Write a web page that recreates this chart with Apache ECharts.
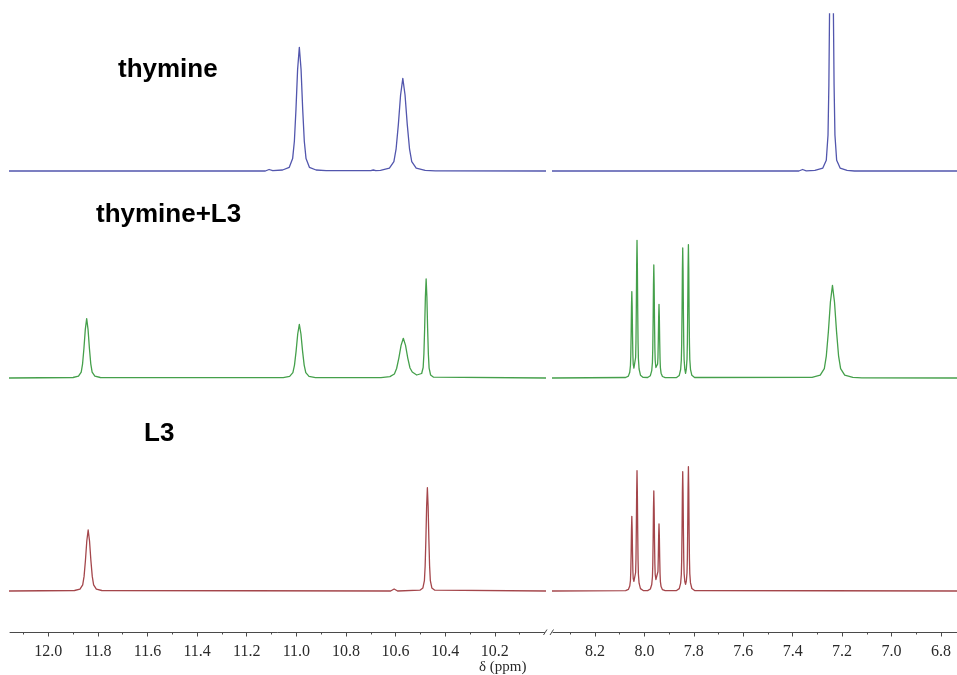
<!DOCTYPE html>
<html><head><meta charset="utf-8">
<script src="https://cdn.jsdelivr.net/npm/echarts/dist/echarts.min.js"></script>
<style>html,body{margin:0;padding:0;background:#fff}#c{width:957px;height:675px}</style>
</head><body><div id="c"></div>
<script>
// ---- data: [chemical shift (ppm), intensity (a.u.)] ----
const traceNames = ['thymine', 'thymine+L3', 'L3'];

const thymine = [
  [12.16,0],[11.125,0],[11.11,1.5],[11.095,0.3],
  [11.0555,1.0],[11.0285,3.7],[11.015,12.4],[11.008,29.7],[11.0015,61.9],[10.995,101.4],[10.988,123.7],[10.981,101.4],[10.9745,61.9],[10.968,29.7],[10.961,12.4],[10.9475,3.7],[10.9205,1.0],[10.88,0.3],
  [10.70,0.3],[10.69,1],[10.68,0.3],
  [10.661,0.7],[10.625,2.8],[10.607,9.3],[10.598,22.2],[10.589,46.4],[10.580,76],[10.571,92.7],[10.562,76],[10.553,46.4],[10.544,22.2],[10.535,9.3],[10.517,2.8],[10.481,0.7],[10.44,0.2],
  [9.98,0],
  [8.38,0],[7.375,0],[7.36,1.5],[7.345,0.2],[7.31,0.6],
  [7.278,2.9],[7.264,10.8],[7.257,36],[7.2535,86.4],[7.250,180],[7.2465,295],[7.243,360],[7.2395,295],[7.236,180],[7.2325,86.4],[7.229,36],[7.222,10.8],[7.208,2.9],[7.18,0.6],[7.15,0],
  [6.73,0]
];

const thymineL3 = [
  [12.16,0],
  [11.900,0.5],[11.878,1.8],[11.867,5.9],[11.8615,14.2],[11.856,29.7],[11.8505,48.6],[11.845,59.3],[11.8395,48.6],[11.834,29.7],[11.8285,14.2],[11.823,5.9],[11.812,1.8],[11.790,0.5],
  [11.053,0.4],[11.027,1.6],[11.014,5.4],[11.0075,12.9],[11.001,26.9],[10.9945,44],[10.988,53.7],[10.9815,44],[10.975,26.9],[10.9685,12.9],[10.962,5.4],[10.949,1.6],[10.923,0.4],
  [10.659,0.4],[10.623,1.4],[10.605,4.0],[10.596,9.5],[10.587,19.9],[10.578,32.6],[10.569,39.7],[10.560,32.6],[10.551,19.9],[10.542,10],[10.533,6],[10.515,3],
  [10.495,4.5],[10.489,10.5],[10.486,24],[10.483,49.5],[10.480,81.2],[10.477,99],[10.474,81.2],[10.471,49.5],[10.468,23.8],[10.465,9.9],[10.459,3],[10.447,0.8],
  [9.98,0],
  [8.38,0],
  [8.076,0.5],[8.065,1.9],[8.0594,5.8],[8.0566,12.5],[8.0552,22.5],[8.0538,43.2],[8.0524,70.8],[8.051,86.4],[8.0496,71.2],[8.0482,44],[8.0468,23.5],[8.0454,14],[8.0426,9.8],[8.0405,9.4],[8.0384,11],[8.0356,20.5],[8.0342,36.5],[8.0328,69.5],[8.0314,113],[8.030,137.7],[8.0286,112.9],[8.0272,68.9],[8.0258,35.8],[8.0244,19.3],[8.0216,9.0],[8.016,2.8],[8.005,0.6],
  [7.987,0.5],[7.976,2.3],[7.9704,7.3],[7.9676,15.8],[7.9662,29.4],[7.9648,56.5],[7.9634,92.7],[7.962,113],[7.9606,92.7],[7.9592,57],[7.9578,30.5],[7.9564,17.5],[7.9536,10.5],[7.9515,10],[7.9494,11],[7.9466,14],[7.9452,21],[7.9438,38],[7.9424,61],[7.941,73.7],[7.9396,60.4],[7.9382,36.9],[7.9368,19.2],[7.9354,10.3],[7.9326,4.8],[7.927,1.5],[7.916,0.3],
  [7.870,0.5],[7.859,2.6],[7.8534,8.5],[7.8506,18.2],[7.8492,33.8],[7.8478,65],[7.8464,106.6],[7.845,130],[7.8436,106.6],[7.8422,65],[7.8408,34],[7.8394,18.5],[7.8366,8.8],[7.8335,4.7],[7.8304,9],[7.8276,19],[7.8262,35],[7.8248,67],[7.8234,109.4],[7.822,133.4],[7.8206,109.4],[7.8192,66.7],[7.8178,34.7],[7.8164,18.7],[7.8136,8.7],[7.808,2.7],[7.797,0.5],
  [7.3215,0.7],[7.2885,2.8],[7.272,9.3],[7.2638,22.2],[7.2555,46.4],[7.2473,76],[7.239,92.7],[7.2308,76],[7.2225,46.4],[7.2143,22.2],[7.206,9.3],[7.1895,2.8],[7.1565,0.7],[7.12,0.2],
  [6.73,0]
];

const L3 = [
  [12.16,0],
  [11.894,0.5],[11.872,1.8],[11.861,6.1],[11.8555,14.6],[11.850,30.5],[11.8445,50],[11.839,61],[11.8335,50],[11.828,30.5],[11.8225,14.6],[11.817,6.1],[11.806,1.8],[11.784,0.5],
  [10.62,0],[10.606,2],[10.592,0],
  [10.502,0.8],[10.490,3.1],[10.484,10.3],[10.481,24.8],[10.478,51.7],[10.475,84.7],[10.472,103.3],[10.469,84.7],[10.466,51.7],[10.463,24.8],[10.460,10.3],[10.454,3.1],[10.442,0.8],
  [9.98,0],
  [8.38,0],
  [8.076,0.4],[8.065,1.6],[8.0594,4.9],[8.0566,10.5],[8.0552,19.4],[8.0538,37.4],[8.0524,61.3],[8.051,74.7],[8.0496,61.5],[8.0482,38],[8.0468,20.5],[8.0454,12.5],[8.0426,9.6],[8.0405,9.3],[8.0384,10.5],[8.0356,18.5],[8.0342,32],[8.0328,61],[8.0314,98.6],[8.030,120.3],[8.0286,98.6],[8.0272,60.2],[8.0258,31.3],[8.0244,16.8],[8.0216,7.8],[8.016,2.4],[8.005,0.5],
  [7.987,0.4],[7.976,2],[7.9704,6.5],[7.9676,14],[7.9662,26],[7.9648,50],[7.9634,82],[7.962,100],[7.9606,82],[7.9592,50.5],[7.9578,27.5],[7.9564,16.5],[7.9536,11.5],[7.9515,11],[7.9494,11.5],[7.9466,13.5],[7.9452,19.5],[7.9438,34.5],[7.9424,55.5],[7.941,67],[7.9396,55],[7.9382,33.5],[7.9368,17.4],[7.9354,9.4],[7.9326,4.4],[7.927,1.3],[7.916,0.3],
  [7.870,0.5],[7.859,2.4],[7.8534,7.8],[7.8506,16.7],[7.8492,31],[7.8478,59.7],[7.8464,97.8],[7.845,119.3],[7.8436,97.8],[7.8422,60],[7.8408,31.5],[7.8394,17.5],[7.8366,9.5],[7.8335,6.7],[7.8304,9.8],[7.8276,18.5],[7.8262,33],[7.8248,62.5],[7.8234,102],[7.822,124.3],[7.8206,102],[7.8192,62.2],[7.8178,32.3],[7.8164,17.4],[7.8136,8.1],[7.808,2.5],[7.797,0.5],
  [6.73,0]
];

const leftMajorTicks  = [12.0, 11.8, 11.6, 11.4, 11.2, 11.0, 10.8, 10.6, 10.4, 10.2];
const leftMinorTicks  = [12.1, 11.9, 11.7, 11.5, 11.3, 11.1, 10.9, 10.7, 10.5, 10.3, 10.1];
const rightMajorTicks = [8.2, 8.0, 7.8, 7.6, 7.4, 7.2, 7.0, 6.8];
const rightMinorTicks = [8.3, 8.1, 7.9, 7.7, 7.5, 7.3, 7.1, 6.9];
const leftRange  = [10.0, 12.154];
const rightRange = [6.735, 8.37];
const axisTitle = 'δ (ppm)';

// ---- layout / style ----
const traces = [thymine, thymineL3, L3];
const colors = ['#5256ad', '#45a04b', '#a4464b'];
const axisColor = '#4a4a4a';
const rowLayout = [
  {top: 14,  height: 164, min: -7,  max: 157},
  {top: 228, height: 157, min: -7,  max: 150},
  {top: 451, height: 181, min: -41, max: 140}
];
const segs = [
  {left: 10,  width: 534.5, range: leftRange,  major: leftMajorTicks,  minor: leftMinorTicks,  keep: p => p[0] >= 9.98},
  {left: 553, width: 404,   range: rightRange, major: rightMajorTicks, minor: rightMinorTicks, keep: p => p[0] <= 8.38}
];
const labelPos = [
  {x: 118, y: 69.5},
  {x: 96,  y: 214.5},
  {x: 144, y: 434}
];

const grid = [], xAxis = [], yAxis = [], series = [];
rowLayout.forEach((row, r) => {
  segs.forEach((s, k) => {
    const gi = grid.length;
    const isBottom = r === rowLayout.length - 1;
    grid.push({left: s.left, width: s.width, top: row.top, height: row.height, containLabel: false});
    xAxis.push({
      type: 'value', gridIndex: gi, position: 'bottom', min: s.range[0], max: s.range[1], inverse: true,
      show: isBottom,
      axisLine: {show: true, onZero: false, lineStyle: {color: axisColor, width: 1}},
      axisTick: {show: false},
      axisLabel: {show: true, customValues: s.major, formatter: v => v.toFixed(1), margin: 12,
                  fontFamily: 'Liberation Serif', fontSize: 16, color: '#2a2a2a'},
      splitLine: {show: false}
    });
    yAxis.push({type: 'value', gridIndex: gi, min: row.min, max: row.max, show: false, splitLine: {show: false}});
    series.push({
      type: 'line', name: traceNames[r], xAxisIndex: gi, yAxisIndex: gi,
      data: traces[r].filter(s.keep), showSymbol: false, symbol: 'none', clip: true,
      silent: true, animation: false,
      lineStyle: {color: colors[r], width: 1.3, join: 'round'}
    });
  });
});
// major and minor ticks on the bottom axes
segs.forEach((s, k) => {
  const gi = (rowLayout.length - 1) * segs.length + k;
  [[s.major, 4.5], [s.minor, 2.5]].forEach(([vals, len]) => {
    xAxis.push({
      type: 'value', gridIndex: gi, position: 'bottom', offset: 0,
      min: s.range[0], max: s.range[1], inverse: true,
      axisLine: {show: false, onZero: false},
      axisTick: {show: true, customValues: vals, length: len, lineStyle: {color: axisColor, width: 1}},
      axisLabel: {show: false}, splitLine: {show: false}
    });
  });
});

const graphic = traceNames.map((t, i) => ({
  type: 'text', x: labelPos[i].x, y: labelPos[i].y, silent: true,
  style: {text: t, font: 'bold 26px "Liberation Sans", Arial, sans-serif', fill: '#000',
          textAlign: 'left', textVerticalAlign: 'middle', align: 'left', verticalAlign: 'middle'}
}));
graphic.push({
  type: 'text', x: 479, y: 667, silent: true,
  style: {text: axisTitle, font: '15px "Liberation Serif", serif', fill: '#2a2a2a',
          textAlign: 'left', textVerticalAlign: 'middle', align: 'left', verticalAlign: 'middle'}
});

const chart = echarts.init(document.getElementById('c'), null, {renderer: 'canvas'});
chart.setOption({animation: false, backgroundColor: '#fff', grid, xAxis, yAxis, series, graphic});

// axis-break marks, placed from the axes themselves
const bl = (rowLayout.length - 1) * segs.length;
const xL = chart.convertToPixel({xAxisIndex: bl}, leftRange[0]);
const xR = chart.convertToPixel({xAxisIndex: bl + 1}, rightRange[1]);
const yA = chart.convertToPixel({yAxisIndex: bl}, rowLayout[2].min);
const brk = [
  {x1: xL - 1, y1: yA + 3, x2: xL + 2.5, y2: yA - 2.5},
  {x1: xR - 3, y1: yA + 3, x2: xR + 0.5, y2: yA - 2.5}
].map(sh => ({type: 'line', silent: true, shape: sh, style: {stroke: axisColor, lineWidth: 1}}));
chart.setOption({graphic: graphic.concat(brk)});
</script>
</body></html>
